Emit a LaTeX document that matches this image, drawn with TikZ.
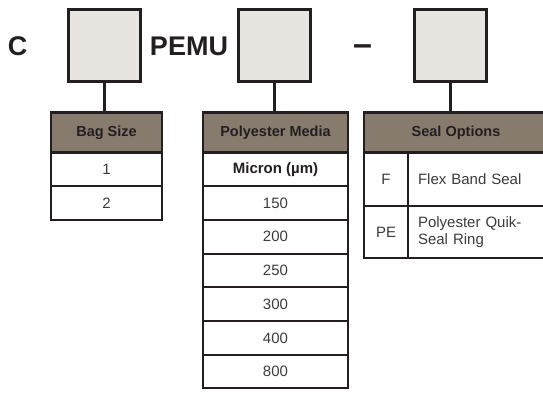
\documentclass[tikz,border=0pt]{standalone}
\usepackage{fontspec}
\setmainfont{Liberation Sans}
\usetikzlibrary{positioning}
\definecolor{codefill}{HTML}{E8E4DF}
\definecolor{headfill}{HTML}{877B6E}
\definecolor{inkline}{HTML}{231F20}
\definecolor{bodytext}{HTML}{3C3C3C}
\tikzset{
  codebox/.style = {draw=inkline, line width=2.6pt, fill=codefill, minimum size=72.5pt,
                    inner sep=0pt, outer sep=0pt},
  code/.style    = {anchor=base, text=inkline, font=\fontsize{27}{30}\selectfont\bfseries},
  head/.style    = {draw=inkline, line width=2.2pt, fill=headfill, minimum height=40pt,
                    inner sep=0pt, outer sep=0pt, text=inkline,
                    font=\fontsize{14.5}{16}\selectfont\bfseries},
  cell/.style    = {draw=inkline, line width=2pt, fill=white, minimum height=33.7pt,
                    inner sep=0pt, outer sep=0pt, text=bodytext,
                    font=\fontsize{15}{17}\selectfont},
  link/.style    = {draw=inkline, line width=2.4pt},
}
\begin{document}
\begin{tikzpicture}[x=1pt,y=-1pt]
  \useasboundingbox (0,0) rectangle (543,392);
  % part number
  \node[code] (cc) at (17.5,55) {C};
  \node[code] (pemu) at (189,55) {PEMU};
  \node[code, font=\fontsize{34}{36}\selectfont\bfseries] (dash) at (362.5,55) {–};
  \node[codebox] (bagbox) at (104.5,45.5) {};
  \node[codebox] (mediabox) at (274.5,45.5) {};
  \node[codebox] (sealbox) at (450.5,45.5) {};
  % bag size
  \node[head, minimum width=111pt] (b0) at (106.5,132.5) {Bag Size};
  \foreach \v [remember=\v as \u (initially 0)] in {1,2}
    \node[cell, minimum width=111pt, below=0pt of b\u] (b\v) {\v};
  % polyester media
  \node[head, minimum width=145pt] (mhead) at (275.5,132.5) {Polyester Media};
  \node[cell, minimum width=145pt, text=inkline, font=\fontsize{15}{16}\selectfont\bfseries,
        below=0pt of mhead] (m0) {Micron (µm)};
  \foreach \v [remember=\v as \u (initially 0)] in {150,200,250,300,400,800}
    \node[cell, minimum width=145pt, below=0pt of m\u] (m\v) {\v};
  % seal options
  \node[head, minimum width=184pt] (shead) at (456,132.5) {Seal Options};
  \node[cell, minimum width=44pt, minimum height=53.5pt, anchor=north west]
       (fcode) at (shead.south west) {F};
  \node[cell, minimum width=140pt, minimum height=53.5pt, right=0pt of fcode,
        align=left, text width=120pt, inner xsep=10pt] (fdesc) {Flex Band Seal};
  \node[cell, minimum width=44pt, minimum height=52pt, below=0pt of fcode] (pecode) {PE};
  \node[cell, minimum width=140pt, minimum height=52pt, right=0pt of pecode,
        align=left, text width=120pt, inner xsep=10pt] (pedesc) {Polyester Quik-\\Seal Ring};
  % connectors
  \draw[link] (bagbox.south) -- (bagbox.south |- b0.north);
  \draw[link] (mediabox.south) -- (mediabox.south |- mhead.north);
  \draw[link] (sealbox.south) -- (sealbox.south |- shead.north);
\end{tikzpicture}
\end{document}
